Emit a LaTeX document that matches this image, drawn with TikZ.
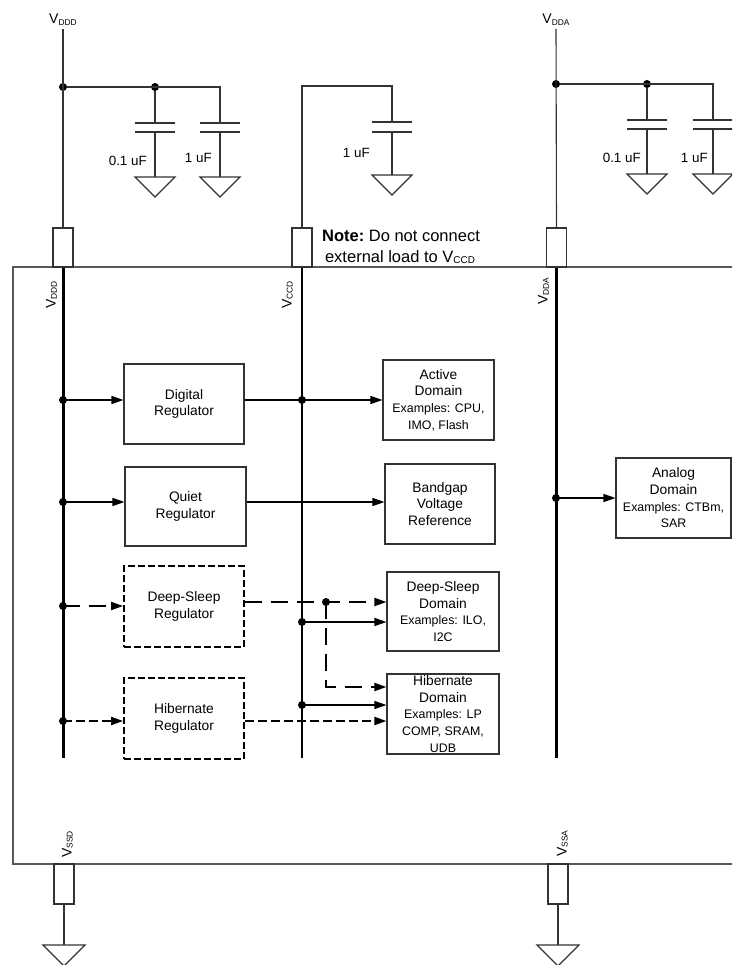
\documentclass[tikz,border=0pt]{standalone}
\usepackage{fontspec}
\setmainfont{Liberation Sans}
\usepackage{graphicx}
\usetikzlibrary{arrows.meta}
\newcommand\bxfont{\fontsize{13.8}{16.7}\selectfont}
\newcommand\exfont{\fontsize{12.4}{15.3}\selectfont}
\newcommand\capfont{\fontsize{13.4}{16}\selectfont}
\newcommand\notefont{\fontsize{16.5}{20}\selectfont}
\newcommand\vfont{\fontsize{14}{16}\selectfont}
\newcommand\Vs[1]{V\raisebox{-1.2pt}{\scalebox{0.6}{#1}}}
\begin{document}
\begin{tikzpicture}[x=1pt,y=-1pt,
  wire/.style={draw=black!80,line width=1.1pt},
  bus/.style={draw=black,line width=3pt},
  plate/.style={draw=black!80,line width=1.6pt},
  blk/.style={draw=black!80,line width=1.1pt,fill=white,inner sep=0pt,align=center,font=\bxfont},
  dblk/.style={blk,draw=black,line width=1.8pt,dash pattern=on 7pt off 3pt},
  pinbox/.style={draw=black!80,line width=1.1pt,fill=white,minimum width=20pt,minimum height=39pt,inner sep=0pt},
  dot/.style={circle,fill=black,inner sep=0pt,minimum size=8pt},
  arr/.style={-{Triangle[length=12pt,width=8pt]},draw=black,line width=1.1pt},
  darr/.style={arr,line width=2pt,dash pattern=on 17pt off 9pt},
  sarr/.style={arr,line width=2pt,dash pattern=on 9pt off 4pt},
  vlab/.style={font=\vfont,inner sep=0pt},
  clab/.style={font=\capfont,inner sep=0pt,anchor=base east},
]
\useasboundingbox (0,0) rectangle (732,965);
\clip (0,0) rectangle (732,965);

% ---------- outer chip rectangle ----------
\draw[draw=black!65,line width=1.1pt] (13,267) rectangle (760,864);

% ---------- pins ----------
\node[pinbox] (pddd) at (63,247.5) {};
\node[pinbox] (pccd) at (302,247.5) {};
\node[pinbox] (pdda) at (556.5,247.5) {};
\node[pinbox,minimum height=40pt] (pssd) at (64,884) {};
\node[pinbox,minimum height=40pt] (pssa) at (558,884) {};

% ---------- VDDD supply ----------
\node[vlab,anchor=base] (lvddd) at (63,24) {\Vs{DDD}};
\coordinate (vdddtop) at (63,29);
\node[dot] (jd1) at (63,87) {};
\node[dot] (jd2) at (155,87) {};
\coordinate (jd3) at (220,87);
\draw[wire] (vdddtop) -- (pddd.north);
\draw[wire] (jd1) -- (jd3) -- (220,123);
\draw[wire] (jd2) -- (155,123);
\draw[plate] (135,123) -- (175,123) (135,132) -- (175,132);
\draw[plate] (200,123) -- (240,123) (200,132) -- (240,132);
\draw[wire] (155,132) -- (155,177) (220,132) -- (220,177);
\draw[wire] (135,177) -- (175,177) -- (155,197) -- cycle;
\draw[wire] (200,177) -- (240,177) -- (220,197) -- cycle;
\node[clab] (c1l) at (147,166) {0.1 uF};
\node[clab] (c2l) at (212,163) {1 uF};

% ---------- VCCD ----------
\coordinate (vc1) at (302,86);
\coordinate (vc2) at (392,86);
\draw[wire] (pccd.north) -- (vc1) -- (vc2) -- (392,122);
\draw[plate] (372,122) -- (412,122) (372,132) -- (412,132);
\draw[wire] (392,132) -- (392,175);
\draw[wire] (372,175) -- (412,175) -- (392,195) -- cycle;
\node[clab] (c3l) at (370,158) {1 uF};
\node[font=\notefont,inner sep=0pt,anchor=base] (note1) at (401,242) {\textbf{Note:}\ Do not connect};
\node[font=\notefont,inner sep=0pt,anchor=base] (note2) at (400,262) {external load to \Vs{CCD}};

% ---------- VDDA supply ----------
\node[vlab,anchor=base] (lvdda) at (556,24) {\Vs{DDA}};
\coordinate (vddatop) at (556,29);
\node[dot] (ja1) at (556,84) {};
\node[dot] (ja2) at (647,84) {};
\coordinate (ja3) at (713,84);
\draw[wire] (vddatop) -- (pdda.north);
\draw[wire] (ja1) -- (ja3) -- (713,120);
\draw[wire] (ja2) -- (647,120);
\draw[plate] (627,120) -- (667,120) (627,129) -- (667,129);
\draw[plate] (693,120) -- (733,120) (693,129) -- (733,129);
\draw[wire] (647,129) -- (647,174) (713,129) -- (713,174);
\draw[wire] (627,174) -- (667,174) -- (647,194) -- cycle;
\draw[wire] (693,174) -- (733,174) -- (713,194) -- cycle;
\node[clab] (c4l) at (641,163) {0.1 uF};
\node[clab] (c5l) at (708,163) {1 uF};

% ---------- ground pins ----------
\coordinate (gsd) at (64,945);
\coordinate (gsa) at (558,945);
\draw[wire] (pssd.south) -- (gsd);
\draw[wire] (pssa.south) -- (gsa);
\draw[wire] (43,945) -- (85,945) -- (64,966) -- cycle;
\draw[wire] (537,945) -- (579,945) -- (558,966) -- cycle;

% ---------- internal rails ----------
\coordinate (bd0) at (63,268);  \coordinate (bd1) at (63,758);
\coordinate (bc0) at (302,268); \coordinate (bc1) at (302,758);
\coordinate (ba0) at (556,268); \coordinate (ba1) at (556,758);
\draw[bus] (bd0) -- (bd1);
\draw[draw=black,line width=1.5pt] (bc0) -- (bc1);
\draw[bus] (ba0) -- (ba1);

\node[vlab,rotate=90,anchor=south west] (ridd) at (57,309) {\Vs{DDD}};
\node[vlab,rotate=90,anchor=south west] (ricc) at (293,309) {\Vs{CCD}};
\node[vlab,rotate=90,anchor=south west] (rida) at (549,305) {\Vs{DDA}};
\node[vlab,rotate=90,anchor=south west] (risd) at (73,858) {\Vs{SSD}};
\node[vlab,rotate=90,anchor=south west] (risa) at (568,857) {\Vs{SSA}};

% ---------- blocks ----------
\node[blk,minimum width=120pt,minimum height=80pt] (dig) at (184,404) {Digital\\Regulator};
\node[blk,minimum width=121pt,minimum height=79pt] (qr) at (185.5,506.5) {Quiet\\Regulator};
\node[dblk,minimum width=120pt,minimum height=81pt] (dsr) at (184,606.5) {Deep-Sleep\\Regulator};
\node[dblk,minimum width=120pt,minimum height=81pt] (hr) at (184,718.5) {Hibernate\\Regulator};
\node[blk,minimum width=111pt,minimum height=80pt] (act) at (438.5,400) {Active\\Domain\\\exfont Examples: CPU,\\\exfont IMO, Flash};
\node[blk,minimum width=110pt,minimum height=80pt] (bg) at (440,504) {Bandgap\\Voltage\\Reference};
\node[blk,minimum width=112pt,minimum height=79pt] (dsd) at (443,611.5) {Deep-Sleep\\Domain\\\exfont Examples: ILO,\\\exfont I2C};
\node[blk,minimum width=112pt,minimum height=80pt] (hd) at (443,714) {Hibernate\\Domain\\\exfont Examples: LP\\\exfont COMP, SRAM,\\\exfont UDB};
\node[blk,minimum width=115pt,minimum height=80pt] (an) at (673.5,498) {Analog\\Domain\\\exfont Examples: CTBm,\\\exfont SAR};

% ---------- junctions ----------
\node[dot] (jdig) at (63,400) {};
\node[dot] (jq) at (63,502) {};
\node[dot] (jds) at (63,606) {};
\node[dot] (jh) at (63,721) {};
\node[dot] (jc1) at (302,400) {};
\node[dot] (jc2) at (302,622) {};
\node[dot] (jc3) at (302,705) {};
\node[dot] (jdd) at (326,602) {};
\node[dot] (jan) at (556,498) {};
\coordinate (bend) at (326,687);

% ---------- connectors ----------
\draw[arr] (jdig.center) -- (jdig -| dig.west);
\draw[arr] (dig.east |- jdig) -- (jc1.center) -- (jc1 -| act.west);
\draw[arr] (jq.center) -- (jq -| qr.west);
\draw[arr] (qr.east |- jq) -- (jq -| bg.west);
\draw[darr] (jds.center) -- (jds -| dsr.west);
\draw[darr] (dsr.east |- jdd) -- (jdd -| dsd.west);
\draw[darr] (jdd.center) -- (bend) -- (bend -| hd.west);
\draw[arr] (jc2.center) -- (jc2 -| dsd.west);
\draw[arr] (jc3.center) -- (jc3 -| hd.west);
\draw[sarr] (jh.center) -- (jh -| hr.west);
\draw[sarr] (hr.east |- jh) -- (jh -| hd.west);
\draw[arr] (jan.center) -- (jan -| an.west);
\end{tikzpicture}
\end{document}
